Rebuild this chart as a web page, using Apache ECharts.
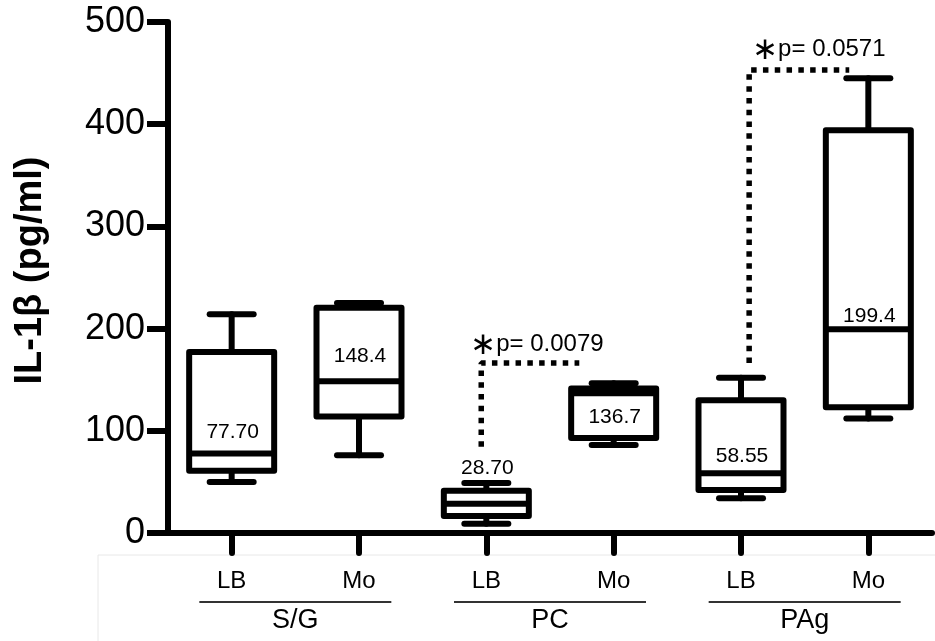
<!DOCTYPE html>
<html><head><meta charset="utf-8">
<script src="https://cdn.jsdelivr.net/npm/echarts@6/dist/echarts.min.js"></script>
<style>html,body{margin:0;padding:0;background:#fff}#c{width:935px;height:641px}</style>
</head><body><div id="c"></div>
<script>
// ---- data ----
const categories = ['LB', 'Mo', 'LB', 'Mo', 'LB', 'Mo'];
const groups = ['S/G', 'PC', 'PAg'];
const yTicks = [0, 100, 200, 300, 400, 500];
const minVals = [50, 76, 9, 86, 34, 112];
const q1Vals = [61, 114, 16.6, 93, 42, 123];
const medianVals = [77.70, 148.4, 28.70, 136.7, 58.55, 199.4];
const q3Vals = [177, 220.5, 41.4, 141.5, 130, 394];
const maxVals = [214, 225, 49, 146.5, 152, 445];
const medianLabels = ['77.70', '148.4', '28.70', '136.7', '58.55', '199.4'];
const bracket1 = [[1.96, 84.4], [1.96, 166.3], [2.73, 166.3]];
const bracket2 = [[4.064, 166.3], [4.064, 453], [4.85, 453]];
const pLabels = ['p= 0.0079', 'p= 0.0571'];

// ---- styling (pixels) ----
const labelOffsets = [-21, -25, -35, 24, -17, -13.5];
const FONT = '"Liberation Sans", Arial, sans-serif';

const boxData = categories.map((c, i) => [i, minVals[i], q1Vals[i], medianVals[i], q3Vals[i], maxVals[i]]);

const chart = echarts.init(document.getElementById('c'));
chart.setOption({
  animation: false,
  backgroundColor: '#fff',
  textStyle: { fontFamily: FONT, color: '#000' },
  grid: { left: 168, right: 3, top: 22, bottom: 108, outerBoundsMode: 'none' },
  xAxis: [
    {
      type: 'category', data: categories, position: 'bottom',
      axisLine: { show: true, onZero: false, lineStyle: { color: '#000', width: 6 } },
      axisTick: { show: true, alignWithLabel: true, length: 20, lineStyle: { color: '#000', width: 6, cap: 'round' } },
      axisLabel: { fontSize: 24, color: '#000', margin: 36, fontFamily: FONT, interval: 0 },
      splitLine: { show: false }
    },
    {
      type: 'category', data: groups, position: 'bottom',
      axisLine: { show: false, onZero: false }, axisTick: { show: false },
      axisLabel: { fontSize: 27, color: '#000', margin: 74, fontFamily: FONT, interval: 0 },
      splitLine: { show: false }
    },
    { type: 'value', min: -0.5, max: 5.5, show: false, axisLine: { onZero: false } }
  ],
  yAxis: {
    type: 'value', min: yTicks[0], max: yTicks[yTicks.length - 1], interval: 100,
    name: 'IL-1\u03B2 (pg/ml)', nameLocation: 'middle', nameGap: 118,
    nameTextStyle: { fontSize: 38, fontWeight: 'bold', color: '#000', fontFamily: FONT, padding: [0, 0, 0, 14] },
    axisLine: { show: true, onZero: false, lineStyle: { color: '#000', width: 6 } },
    axisTick: { show: true, length: 21, lineStyle: { color: '#000', width: 6 } },
    axisLabel: { fontSize: 36, color: '#000', margin: 23, fontFamily: FONT },
    splitLine: { show: false }
  },
  series: [
    {
      type: 'custom', xAxisIndex: 0, yAxisIndex: 0,
      data: boxData,
      encode: { x: 0, y: [1, 2, 3, 4, 5] },
      renderItem: function (params, api) {
        const x = api.value(0);
        const pMin = api.coord([x, api.value(1)]);
        const pQ1 = api.coord([x, api.value(2)]);
        const pMed = api.coord([x, api.value(3)]);
        const pQ3 = api.coord([x, api.value(4)]);
        const pMax = api.coord([x, api.value(5)]);
        const cx = pMin[0];
        const bw = 85, cw = 44;
        const st = { stroke: '#000', lineWidth: 6, fill: null, lineCap: 'round', lineJoin: 'round' };
        const i = params.dataIndex;
        return {
          type: 'group',
          children: [
            { type: 'line', shape: { x1: cx, y1: pQ3[1], x2: cx, y2: pMax[1] }, style: st },
            { type: 'line', shape: { x1: cx, y1: pQ1[1], x2: cx, y2: pMin[1] }, style: st },
            { type: 'line', shape: { x1: cx - cw / 2, y1: pMax[1], x2: cx + cw / 2, y2: pMax[1] }, style: st },
            { type: 'line', shape: { x1: cx - cw / 2, y1: pMin[1], x2: cx + cw / 2, y2: pMin[1] }, style: st },
            { type: 'rect', shape: { x: cx - bw / 2, y: pQ3[1], width: bw, height: pQ1[1] - pQ3[1] },
              style: Object.assign({}, st, { fill: '#fff' }) },
            { type: 'line', shape: { x1: cx - bw / 2, y1: pMed[1], x2: cx + bw / 2, y2: pMed[1] },
              style: Object.assign({}, st, { lineCap: 'butt' }) },
            { type: 'text', style: { text: medianLabels[i], x: cx + 1, y: pMed[1] + labelOffsets[i],
              align: 'center', verticalAlign: 'middle', fontSize: 21, fontFamily: FONT, fill: '#000' } }
          ]
        };
      }
    },
    {
      type: 'line', xAxisIndex: 2, yAxisIndex: 0, data: bracket1, symbol: 'none', clip: false,
      lineStyle: { color: '#000', width: 5.5, type: [5.5, 6.3], cap: 'butt' }
    },
    {
      type: 'line', xAxisIndex: 2, yAxisIndex: 0, data: bracket2, symbol: 'none', clip: false,
      lineStyle: { color: '#000', width: 5.5, type: [5.5, 6.3], cap: 'butt' }
    },
    {
      type: 'scatter', xAxisIndex: 2, yAxisIndex: 0, symbolSize: 0, clip: false,
      itemStyle: { opacity: 1, color: '#000' },
      data: [
        { value: bracket1[1], label: { formatter: '{a|\u2217}' + pLabels[0], offset: [-11, -19] } },
        { value: bracket2[1], label: { formatter: '{a|\u2217}' + pLabels[1], offset: [3, -21] } }
      ],
      label: {
        show: true, position: 'right', distance: 0, fontSize: 24, color: '#000', opacity: 1, fontFamily: FONT,
        rich: { a: { fontSize: 31, color: '#000', fontFamily: '"DejaVu Sans", sans-serif', padding: [3, 0, 0, 0] } }
      }
    }
  ]
});

// group underlines and frame, placed from the category axis scale
const lines = groups.map((g, i) => {
  const cx = chart.convertToPixel({ xAxisIndex: 1 }, i);
  return { type: 'line', shape: { x1: cx - 96, y1: 602, x2: cx + 96, y2: 602 },
           style: { stroke: '#333', lineWidth: 2 }, silent: true };
});
chart.setOption({
  graphic: [
    { type: 'rect', shape: { x: 98, y: 555, width: 860, height: 100 },
      style: { stroke: '#e8e8e8', fill: null, lineWidth: 1 }, z: -10, silent: true }
  ].concat(lines)
});
</script>
</body></html>
